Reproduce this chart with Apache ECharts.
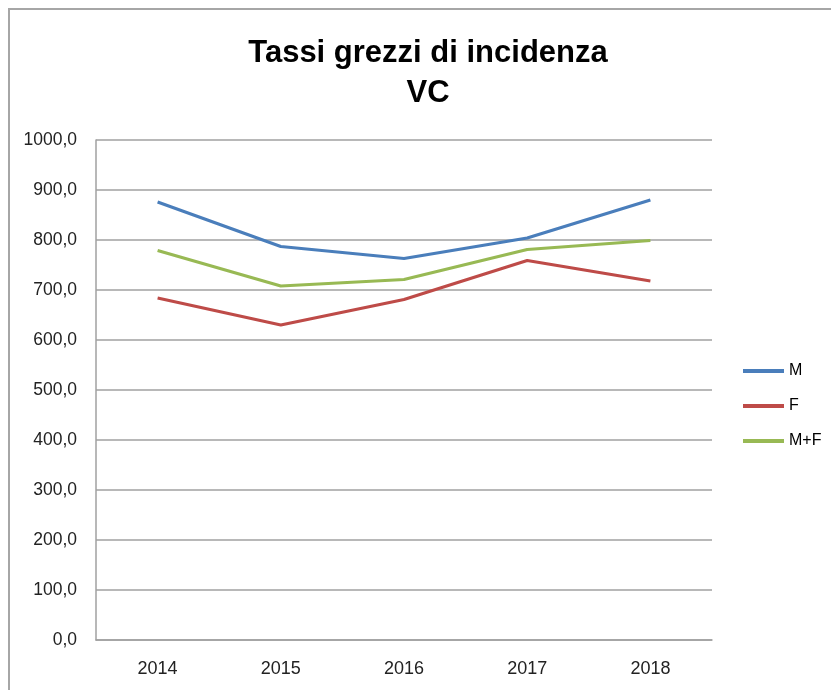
<!DOCTYPE html>
<html>
<head>
<meta charset="utf-8">
<title>Tassi grezzi di incidenza VC</title>
<script src="https://cdn.jsdelivr.net/npm/echarts@6/dist/echarts.min.js"></script>
<style>
  html, body { margin: 0; padding: 0; background: #fff; }
  #myChart { width: 831px; height: 690px; }
</style>
</head>
<body>
<div id="myChart"></div>
<script>
// dati
var anni = ['2014', '2015', '2016', '2017', '2018']
var datiM = [876, 787, 763, 804, 880]
var datiF = [684, 630, 681, 759, 718]
var datiMF = [779, 708, 721, 781, 799]
var yTicks = [0, 100, 200, 300, 400, 500, 600, 700, 800, 900, 1000]

var colori = ['#4a7ebb', '#be4b48', '#98b954']
var font = '"Liberation Sans", Arial, sans-serif'

var myChart = echarts.init(document.getElementById('myChart'))

function serie(nome, dati) {
  return {
    name: nome,
    type: 'line',
    data: dati,
    symbol: 'none',
    lineStyle: { width: 3.2 }
  }
}

myChart.setOption({
  animation: false,
  color: colori,
  graphic: [
    {
      type: 'rect',
      shape: { x: 9, y: 9, width: 900, height: 800 },
      style: { fill: 'none', stroke: '#a6a6a6', lineWidth: 2 },
      silent: true
    }
  ],
  title: {
    text: 'Tassi grezzi di incidenza\nVC',
    left: 423,
    textAlign: 'center',
    top: 28,
    textStyle: {
      fontFamily: font,
      fontWeight: 'bold',
      fontSize: 31,
      lineHeight: 40,
      color: '#000'
    }
  },
  grid: {
    left: 96,
    right: 119,
    top: 140,
    bottom: 50
  },
  legend: {
    orient: 'vertical',
    left: 743,
    top: 362,
    padding: 0,
    icon: 'rect',
    itemWidth: 41,
    itemHeight: 4,
    itemGap: 17,
    textStyle: {
      fontFamily: font,
      fontSize: 16,
      lineHeight: 18,
      color: '#000'
    },
    data: ['M', 'F', 'M+F']
  },
  xAxis: {
    type: 'category',
    data: anni,
    boundaryGap: true,
    axisLine: { lineStyle: { color: '#a0a0a0', width: 1.5 } },
    axisTick: { show: false },
    axisLabel: {
      fontFamily: font,
      fontSize: 18,
      color: '#222',
      margin: 20
    }
  },
  yAxis: {
    type: 'value',
    min: yTicks[0],
    max: yTicks[yTicks.length - 1],
    interval: 100,
    axisLine: { show: true, lineStyle: { color: '#a0a0a0', width: 1.5 } },
    axisTick: { show: false },
    axisLabel: {
      fontFamily: font,
      fontSize: 17.5,
      color: '#222',
      margin: 19,
      formatter: function (v) {
        return v.toFixed(1).replace('.', ',')
      }
    },
    splitLine: {
      lineStyle: { color: '#a0a0a0', width: 1.5 }
    }
  },
  series: [
    serie('M', datiM),
    serie('F', datiF),
    serie('M+F', datiMF)
  ]
})
</script>
</body>
</html>
